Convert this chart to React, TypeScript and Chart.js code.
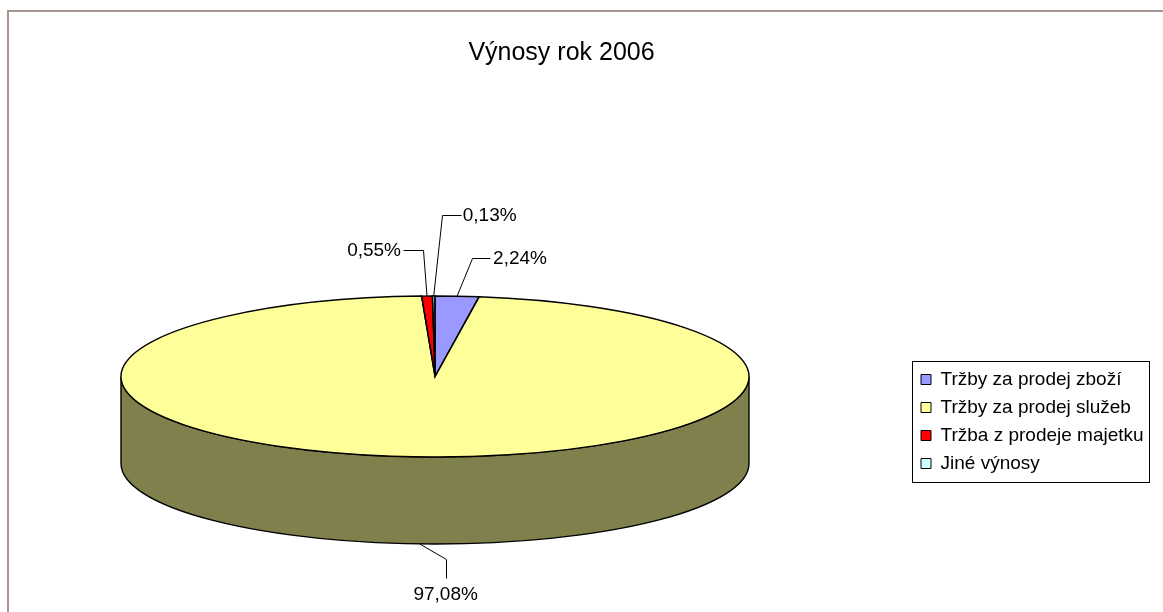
import React, { useEffect, useRef } from "react";
import { Chart, registerables } from "chart.js";

Chart.register(...registerables);

// ---------- data ----------
const TITLE = "Výnosy rok 2006";
const CATEGORIES = [
  "Tržby za prodej zboží",
  "Tržby za prodej služeb",
  "Tržba z prodeje majetku",
  "Jiné výnosy",
];
const SHARES = [2.24, 97.08, 0.55, 0.13];

// ---------- styles / layout ----------
const TOP_COLORS = ["#9999FF", "#FFFF99", "#FF0000", "#CCFFFF"];
const SIDE_COLORS = ["#4D4D80", "#80804D", "#800000", "#668080"];
const FONT = "'Liberation Sans', Arial, Helvetica, sans-serif";
const PIE = { cx: 435, cy: 376.5, rx: 314, ry: 80.5, depth: 87 };
const LEGEND_BOX = { left: 912, top: 361, width: 237, pad: 9, font: 19 };
const LABEL_FONT = 19;
const LABEL_LAYOUT = [
  { elbow: [15, -38], end: [33, -38], text: [36, -37], align: "left" },
  { elbow: [26, 15], end: [26, 34], text: [26, 51], align: "center" },
  { elbow: [-4, -46], end: [-24, -46], text: [-26, -45], align: "right" },
  { elbow: [8, -81], end: [27, -81], text: [29, -80], align: "left" },
];

const formatShare = (v: number) => v.toFixed(2).replace(".", ",") + "%";

const pie3d = {
  id: "pie3d",
  afterLayout(chart: any) {
    const lg = chart.legend;
    if (!lg) return;
    const h = lg.height;
    lg.left = LEGEND_BOX.left;
    lg.top = LEGEND_BOX.top;
    lg.width = LEGEND_BOX.width;
    lg.right = lg.left + LEGEND_BOX.width;
    lg.bottom = lg.top + Math.max(h, 200);
  },
  beforeDraw(chart: any) {
    const ctx = chart.ctx;
    ctx.save();
    ctx.strokeStyle = "#a8958f";
    ctx.lineWidth = 2;
    ctx.beginPath();
    ctx.moveTo(8, 700);
    ctx.lineTo(8, 11);
    ctx.lineTo(1300, 11);
    ctx.stroke();
    ctx.restore();
  },
  beforeDatasetsDraw(chart: any) {
    const ctx = chart.ctx;
    const arcs = chart.getDatasetMeta(0).data;
    if (!arcs.length) return;
    ctx.save();
    ctx.lineWidth = 1.4;
    ctx.strokeStyle = "#000";
    arcs.forEach((arc: any, i: number) => {
      const a = Math.max(arc.startAngle, 0);
      const b = Math.min(arc.endAngle, Math.PI);
      if (b <= a) return;
      ctx.beginPath();
      ctx.ellipse(PIE.cx, PIE.cy, PIE.rx, PIE.ry, 0, a, b, false);
      ctx.ellipse(PIE.cx, PIE.cy + PIE.depth, PIE.rx, PIE.ry, 0, b, a, true);
      ctx.closePath();
      ctx.fillStyle = SIDE_COLORS[i];
      ctx.fill();
      ctx.stroke();
    });
    ctx.restore();
    const a0 = arcs[0];
    const R = a0.outerRadius;
    ctx.save();
    ctx.translate(PIE.cx, PIE.cy);
    ctx.scale(PIE.rx / R, PIE.ry / R);
    ctx.translate(-a0.x, -a0.y);
  },
  afterDatasetsDraw(chart: any) {
    const ctx = chart.ctx;
    ctx.restore();
    const arcs = chart.getDatasetMeta(0).data;
    if (!arcs.length) return;
    ctx.save();
    ctx.lineWidth = 1.4;
    ctx.strokeStyle = "#000";
    arcs.forEach((arc: any) => {
      ctx.beginPath();
      ctx.moveTo(PIE.cx, PIE.cy);
      ctx.ellipse(PIE.cx, PIE.cy, PIE.rx, PIE.ry, 0, arc.startAngle, arc.endAngle, false);
      ctx.closePath();
      ctx.stroke();
    });
    // data labels with leader lines
    ctx.lineWidth = 1;
    ctx.font = `${LABEL_FONT}px ${FONT}`;
    ctx.fillStyle = "#000";
    ctx.textBaseline = "middle";
    arcs.forEach((arc: any, i: number) => {
      const mid = (arc.startAngle + arc.endAngle) / 2;
      const s = Math.sin(mid);
      const ax = PIE.cx + PIE.rx * Math.cos(mid);
      const ay = PIE.cy + PIE.ry * s + (s > 0 ? PIE.depth : 0);
      const L = LABEL_LAYOUT[i];
      const px = (v: number) => Math.round(v) + 0.5;
      ctx.beginPath();
      ctx.moveTo(ax, ay);
      ctx.lineTo(px(ax + L.elbow[0]), px(ay + L.elbow[1]));
      ctx.lineTo(px(ax + L.end[0]), px(ay + L.end[1]));
      ctx.stroke();
      ctx.textAlign = L.align as CanvasTextAlign;
      ctx.fillText(formatShare(SHARES[i]), ax + L.text[0], ay + L.text[1]);
    });
    ctx.restore();
  },
  afterDraw(chart: any) {
    const ctx = chart.ctx;
    const n = CATEGORIES.length;
    const h = n * LEGEND_BOX.font + (n + 1) * LEGEND_BOX.pad;
    ctx.save();
    ctx.strokeStyle = "#000";
    ctx.lineWidth = 1;
    ctx.strokeRect(LEGEND_BOX.left + 0.5, LEGEND_BOX.top + 0.5, LEGEND_BOX.width, h);
    ctx.restore();
  },
};

export default function App() {
  const ref = useRef<HTMLCanvasElement | null>(null);
  useEffect(() => {
    if (!ref.current) return;
    const chart = new Chart(ref.current, {
      type: "pie",
      data: {
        labels: CATEGORIES,
        datasets: [
          {
            data: SHARES,
            backgroundColor: TOP_COLORS,
            borderWidth: 0,
            hoverOffset: 0,
            clip: false,
          } as any,
        ],
      },
      options: {
        animation: false,
        responsive: true,
        maintainAspectRatio: false,
        events: [],
        layout: { padding: { left: 0, right: 40, top: 0, bottom: 0 } },
        plugins: {
          title: {
            display: true,
            text: TITLE,
            color: "#000",
            font: { family: FONT, size: 25, weight: "normal" },
            padding: { top: 38, bottom: 10 },
          },
          legend: {
            display: true,
            position: "chartArea",
            align: "start",
            labels: {
              boxWidth: 10,
              boxHeight: 10,
              padding: LEGEND_BOX.pad,
              color: "#000",
              font: { family: FONT, size: LEGEND_BOX.font },
              generateLabels: (c: any) =>
                c.data.labels.map((text: string, i: number) => ({
                  text,
                  fillStyle: c.data.datasets[0].backgroundColor[i],
                  strokeStyle: "#000",
                  lineWidth: 1,
                  hidden: false,
                  index: i,
                })),
            },
          },
          tooltip: { enabled: false },
        },
      } as any,
      plugins: [pie3d],
    });
    return () => chart.destroy();
  }, []);
  return (
    <div style={{ position: "absolute", left: 0, top: 0, width: 1163, height: 612, background: "#fff" }}>
      <canvas ref={ref} />
    </div>
  );
}
